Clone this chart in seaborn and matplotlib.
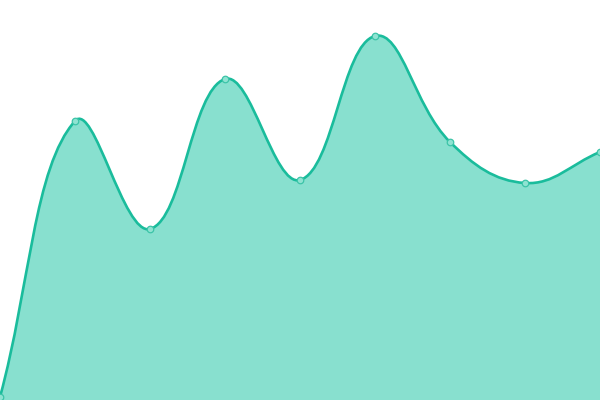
import numpy as np
import matplotlib
matplotlib.use("Agg")
import matplotlib.pyplot as plt
from matplotlib.path import Path
from matplotlib.patches import PathPatch
import seaborn as sns

sns.set_theme(style="white")

labels = ["0", "1", "2", "3", "4", "5", "6", "7", "8"]
values = [3, 279, 171, 321, 220, 364, 258, 217, 248]

line_color = "#1abc9c"
fill_color = "#88e0cf"

fig = plt.figure(figsize=(6, 4), dpi=100)
ax = fig.add_axes([0, 0, 1, 1])
ax.set_xlim(0, len(values) - 1)
ax.set_ylim(0, 400)
ax.axis("off")

# bezier control points, chart.js style spline (tension 0.4), worked out in pixel space
xs = np.arange(len(values), dtype=float)
px = xs * 600 / (len(values) - 1)
py = np.array(values, dtype=float)
t = 0.4
cps = []
for i in range(len(values)):
    p0 = (px[max(i - 1, 0)], py[max(i - 1, 0)])
    p1 = (px[i], py[i])
    p2 = (px[min(i + 1, len(values) - 1)], py[min(i + 1, len(values) - 1)])
    d01 = np.hypot(p1[0] - p0[0], p1[1] - p0[1])
    d12 = np.hypot(p2[0] - p1[0], p2[1] - p1[1])
    s = d01 + d12 if d01 + d12 else 1
    fa, fb = t * d01 / s, t * d12 / s
    prev_cp = (p1[0] - fa * (p2[0] - p0[0]), p1[1] - fa * (p2[1] - p0[1]))
    next_cp = (p1[0] + fb * (p2[0] - p0[0]), p1[1] + fb * (p2[1] - p0[1]))
    cps.append((prev_cp, next_cp))

scale = (len(values) - 1) / 600
verts = [(xs[0], py[0])]
codes = [Path.MOVETO]
for i in range(1, len(values)):
    a = cps[i - 1][1]
    b = cps[i][0]
    verts += [(a[0] * scale, min(max(a[1], 0), 400)),
              (b[0] * scale, min(max(b[1], 0), 400)),
              (xs[i], py[i])]
    codes += [Path.CURVE4] * 3

line_path = Path(verts, codes)
area_path = Path(verts + [(xs[-1], 0), (xs[0], 0), (xs[0], py[0])],
                 codes + [Path.LINETO, Path.LINETO, Path.CLOSEPOLY])

ax.add_patch(PathPatch(area_path, facecolor=fill_color, edgecolor="none"))
ax.add_patch(PathPatch(line_path, facecolor="none", edgecolor=line_color, lw=1.9))

sns.scatterplot(x=xs, y=values, ax=ax, s=22, color="#8fe3d2",
                edgecolor="#3cc4a8", linewidth=0.9, zorder=5, clip_on=True)

fig.savefig("out.png", dpi=100)
